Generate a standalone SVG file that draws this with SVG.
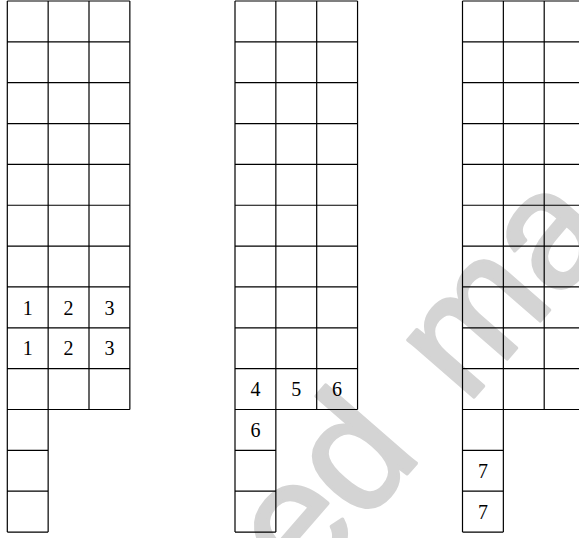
<svg xmlns="http://www.w3.org/2000/svg" xmlns:xlink="http://www.w3.org/1999/xlink" width="579" height="538" viewBox="0 0 579 538">
<style>
.grid{fill:none;stroke:#000;stroke-width:1.2}
.num{font-size:20px;fill:#000;text-anchor:middle}
.wm{font-size:165px;word-spacing:20px;fill:#d4d4d4;stroke:#d4d4d4;stroke-width:3.5;stroke-linejoin:round}
</style>
<defs>
<path id="shape" class="grid" d="M0,0H122.55M0,40.85H122.55M0,81.7H122.55M0,122.55H122.55M0,163.4H122.55M0,204.25H122.55M0,245.1H122.55M0,285.95H122.55M0,326.8H122.55M0,367.65H122.55M0,408.5H122.55M0,449.35H40.85M0,490.2H40.85M0,531.05H40.85M0,0V531.05M40.85,0V531.05M81.7,0V408.5M122.55,0V408.5"/>
</defs>
<g id="watermark">
<text class="wm" font-family="Liberation Sans, Arial, sans-serif" transform="translate(302.9,593.8) rotate(-49)" x="0" y="0">ed ma</text>
</g>
<g id="tableau1" font-family="Liberation Serif, Times New Roman, serif">
<use xlink:href="#shape" href="#shape" x="7.3" y="1"/>
<text class="num" x="27.7" y="314.5">1</text>
<text class="num" x="68.6" y="314.5">2</text>
<text class="num" x="109.4" y="314.5">3</text>
<text class="num" x="27.7" y="355.3">1</text>
<text class="num" x="68.6" y="355.3">2</text>
<text class="num" x="109.4" y="355.3">3</text>
</g>
<g id="tableau2" font-family="Liberation Serif, Times New Roman, serif">
<use xlink:href="#shape" href="#shape" x="235" y="1"/>
<text class="num" x="255.4" y="396">4</text>
<text class="num" x="296.3" y="396">5</text>
<text class="num" x="337.1" y="396">6</text>
<text class="num" x="255.4" y="436.5">6</text>
</g>
<g id="tableau3" font-family="Liberation Serif, Times New Roman, serif">
<use xlink:href="#shape" href="#shape" x="462.5" y="1"/>
<text class="num" x="482.9" y="477.5">7</text>
<text class="num" x="482.9" y="518.5">7</text>
</g>
</svg>
